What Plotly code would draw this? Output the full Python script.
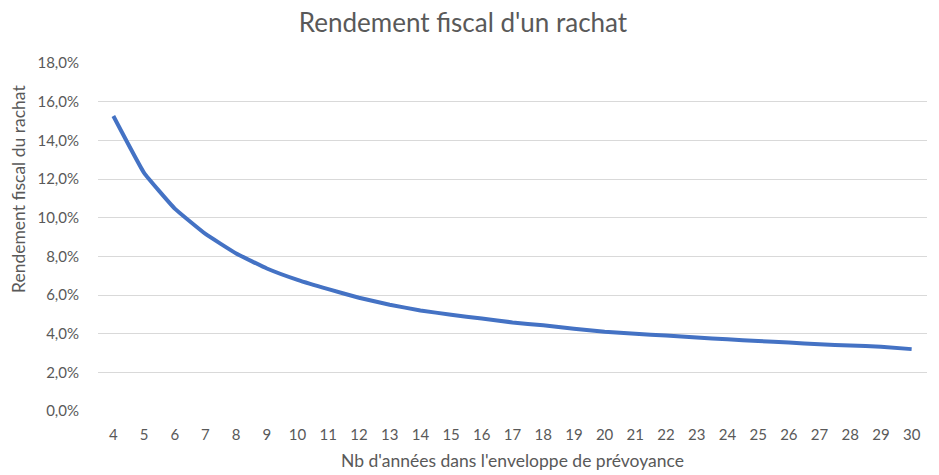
import plotly.graph_objects as go

years = list(range(4, 31))
rendement_pct = [15.26, 12.32, 10.47, 9.16, 8.15, 7.37, 6.78, 6.30, 5.86, 5.50,
                 5.20, 4.98, 4.78, 4.58, 4.43, 4.26, 4.10, 4.00, 3.90, 3.80,
                 3.71, 3.62, 3.54, 3.45, 3.39, 3.32, 3.20]
rendement = [v / 100 for v in rendement_pct]

title_text = "Rendement fiscal d'un rachat"
x_title = "Nb d'années dans l'enveloppe de prévoyance"
y_title = "Rendement fiscal du rachat"

font_family = "Lato, Open Sans, sans-serif"
grey = "#595959"

W, H = 939, 475
L, R, T, B = 98, 12, 63, 64
plot_w = W - L - R
plot_h = H - T - B

fig = go.Figure()
fig.add_trace(go.Scatter(
    x=years, y=rendement, mode="lines",
    line=dict(color="#4472C4", width=4, shape="spline", smoothing=0.3),
    hoverinfo="x+y",
))

fig.update_layout(
    width=W, height=H,
    margin=dict(l=L, r=R, t=T, b=B, autoexpand=False),
    paper_bgcolor="white", plot_bgcolor="white",
    separators=", ",
    showlegend=False,
    font=dict(family=font_family, color=grey, size=15),
    title=dict(text=title_text, x=463 / W, xanchor="center", y=1 - 23 / H, yanchor="middle",
               font=dict(size=26, color=grey, family=font_family)),
    xaxis=dict(
        range=[3.5, 30.5], tickmode="array", tickvals=years,
        ticktext=[str(y) for y in years],
        showgrid=False, zeroline=False, showline=False, ticks="",
        automargin=False,
        ticklabelstandoff=13,
        tickfont=dict(size=15, color=grey),
        title=dict(text=x_title, font=dict(size=17.5, color=grey), standoff=12),
    ),
    yaxis=dict(
        range=[0, 0.18], tickmode="array",
        tickvals=[i * 0.02 for i in range(10)],
        tickformat=".1%",
        showgrid=True, gridcolor="#D9D9D9", gridwidth=1,
        zeroline=False, showline=False, ticks="",
        automargin=False,
        ticklabelstandoff=18,
        tickfont=dict(size=15, color=grey),
    ),
    annotations=[dict(
        text=y_title, textangle=-90, showarrow=False,
        xref="paper", yref="paper",
        x=(18 - L) / plot_w, y=(H - B - 189) / plot_h,
        xanchor="center", yanchor="middle",
        font=dict(size=17.5, color=grey),
    )],
)

fig.write_html("out.html", config={"displayModeBar": False},
               post_script="document.body.style.margin='0';")
